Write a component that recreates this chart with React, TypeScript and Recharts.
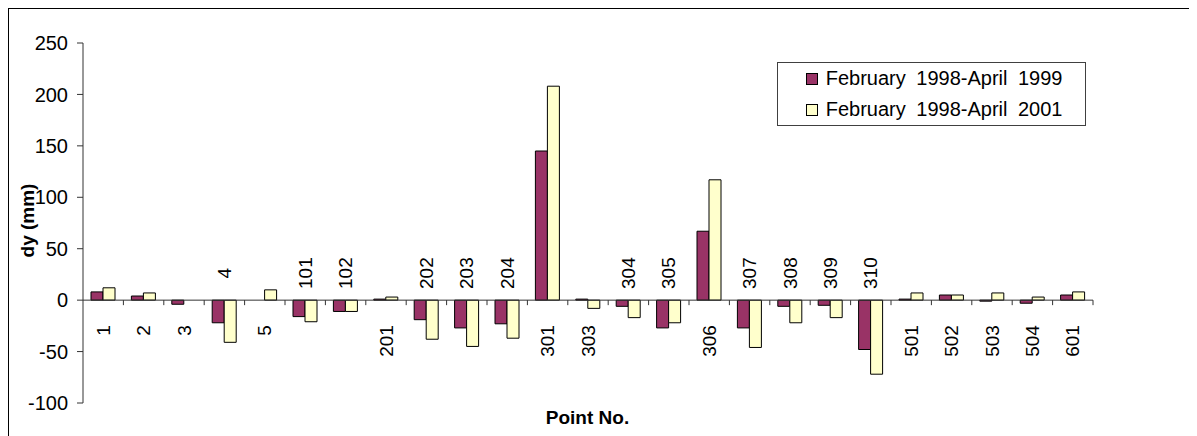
import { Bar, BarChart, Label, Legend, ReferenceLine, XAxis, YAxis } from "recharts";

// survey points along the x axis
const points = [
  "1", "2", "3", "4", "5", "101", "102", "201", "202", "203", "204", "301", "303",
  "304", "305", "306", "307", "308", "309", "310", "501", "502", "503", "504", "601",
];
// vertical displacement dy (mm), Feb 1998 -> Apr 1999
const dy1999 = [8, 4, -4, -22, null, -16, -11, 1, -19, -27, -23, 145, 1, -6, -27, 67, -27, -6, -5, -48, 1, 5, -1, -3, 5];
// vertical displacement dy (mm), Feb 1998 -> Apr 2001
const dy2001 = [12, 7, null, -41, 10, -21, -11, 3, -38, -45, -37, 208, -8, -17, -22, 117, -46, -22, -17, -72, 7, 5, 7, 3, 8];
// points whose name sits above the zero line instead of below it
const namesAbove = ["4", "101", "102", "202", "203", "204", "304", "305", "307", "308", "309", "310"];
const yTicks = [-100, -50, 0, 50, 100, 150, 200, 250];

const data = points.map((p, i) => ({ point: p, a: dy1999[i], b: dy2001[i] }));

const W = 1189;
const H = 428;
const TOP = 35;
const PLOT_H = 360;
const LEFT = 75;
const PLOT_W = 1010;
const Y_MIN = -100;
const Y_MAX = 250;
const ZERO_Y = TOP + (PLOT_H * Y_MAX) / (Y_MAX - Y_MIN);
const BAND = PLOT_W / points.length;
const FONT = "'Liberation Sans', Arial, sans-serif";

// category name plus the small tick on the zero line at the band's right edge
function PointTick(props: any) {
  const { x, payload } = props;
  const name = String(payload.value);
  const above = namesAbove.includes(name);
  const edge = x + BAND / 2;
  const ty = above ? ZERO_Y - 27 : ZERO_Y + 25;
  return (
    <g>
      <line x1={edge} x2={edge} y1={ZERO_Y} y2={ZERO_Y + 5} stroke="#333" />
      <text
        transform={`translate(${x},${ty}) rotate(-90)`}
        textAnchor={above ? "middle" : "end"}
        dominantBaseline="central"
        fontSize={19}
        fill="#000"
      >
        {name}
      </text>
    </g>
  );
}

function LegendBox(props: any) {
  const items = props.payload || [];
  return (
    <div
      style={{
        border: "1px solid #404040",
        background: "#fff",
        height: 62,
        fontFamily: FONT,
        fontSize: 20,
        wordSpacing: 5,
        color: "#000",
      }}
    >
      {items.map((it: any) => (
        <div key={it.value} style={{ height: 31, display: "flex", alignItems: "center", paddingLeft: 28 }}>
          <span
            style={{
              width: 10,
              height: 10,
              background: it.color,
              border: "1px solid #000",
              marginRight: 8,
              display: "inline-block",
            }}
          />
          <span style={{ whiteSpace: "nowrap" }}>{it.value}</span>
        </div>
      ))}
    </div>
  );
}

export default function App() {
  return (
    <div style={{ position: "relative", width: W, height: H }}>
      <div
        style={{
          position: "absolute",
          left: 0,
          top: 0,
          width: W,
          height: H,
          borderTop: "1px solid #000",
          borderLeft: "1px solid #000",
          boxSizing: "border-box",
          pointerEvents: "none",
        }}
      />
      <BarChart
        width={W}
        height={H}
        data={data}
        margin={{ top: TOP, right: W - LEFT - PLOT_W, bottom: 0, left: 0 }}
        barGap={0}
        barSize={12}
        style={{ fontFamily: FONT }}
      >
        <XAxis
          dataKey="point"
          height={H - TOP - PLOT_H}
          axisLine={false}
          tickLine={false}
          interval={0}
          tick={<PointTick />}
        >
          <Label
            content={() => (
              <text x={579.5} y={416} textAnchor="middle" fontSize={19} fontWeight="bold" fill="#000">
                Point No.
              </text>
            )}
          />
        </XAxis>
        <YAxis
          width={LEFT}
          domain={[Y_MIN, Y_MAX]}
          ticks={yTicks}
          interval={0}
          allowDataOverflow
          tickSize={6}
          tickMargin={9}
          axisLine={{ stroke: "#333" }}
          tickLine={{ stroke: "#333" }}
          tick={{ fill: "#000", fontSize: 20 }}
        >
          <Label
            content={() => (
              <text
                transform="translate(19,212.5) rotate(-90)"
                textAnchor="middle"
                dominantBaseline="central"
                fontSize={19}
                fontWeight="bold"
                fill="#000"
              >
                dy (mm)
              </text>
            )}
          />
        </YAxis>
        <Legend
          layout="horizontal"
          verticalAlign="middle"
          align="center"
          wrapperStyle={{ left: 768.7, top: 54.3, width: 309, height: 64 }}
          content={<LegendBox />}
        />
        <Bar dataKey="a" name="February 1998-April 1999" fill="#993366" stroke="#000" strokeWidth={1} isAnimationActive={false} />
        <Bar dataKey="b" name="February 1998-April 2001" fill="#FFFFCC" stroke="#000" strokeWidth={1} isAnimationActive={false} />
        <ReferenceLine y={0} stroke="#333" />
      </BarChart>
    </div>
  );
}
